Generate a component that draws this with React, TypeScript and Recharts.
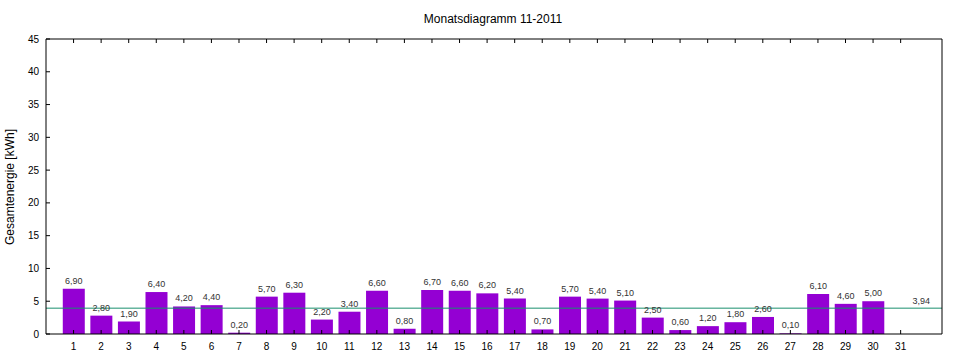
import { BarChart, Bar, XAxis, YAxis, ReferenceLine, LabelList } from 'recharts'

const days = [1, 2, 3, 4, 5, 6, 7, 8, 9, 10, 11, 12, 13, 14, 15, 16, 17, 18, 19, 20, 21, 22, 23, 24, 25, 26, 27, 28, 29, 30]
const energy = [6.9, 2.8, 1.9, 6.4, 4.2, 4.4, 0.2, 5.7, 6.3, 2.2, 3.4, 6.6, 0.8, 6.7, 6.6, 6.2, 5.4, 0.7, 5.7, 5.4, 5.1, 2.5, 0.6, 1.2, 1.8, 2.6, 0.1, 6.1, 4.6, 5.0]
const average = 3.94
const xTicks = [1, 2, 3, 4, 5, 6, 7, 8, 9, 10, 11, 12, 13, 14, 15, 16, 17, 18, 19, 20, 21, 22, 23, 24, 25, 26, 27, 28, 29, 30, 31]
const yTicks = [0, 5, 10, 15, 20, 25, 30, 35, 40, 45]

const data = days.map((d, i) => ({ day: d, value: energy[i] }))

const font = '"Liberation Sans", Arial, sans-serif'
const fmt = (v: any) => Number(v).toFixed(2).replace('.', ',')

export default function App() {
  return (
    <div style={{ position: 'absolute', left: 0, top: 0, width: 960, height: 360, background: '#fff', fontFamily: font }}>
      <BarChart width={960} height={360} data={data} margin={{ top: 38, right: 17, bottom: 0, left: 0 }}>
        <XAxis dataKey="day" type="number" domain={[0, 32.5]} ticks={xTicks} interval={0} height={26}
          tickSize={-4} tickMargin={13} stroke="#000" tick={{ fontSize: 10, fill: '#000', fontFamily: font }} />
        <XAxis xAxisId="top" dataKey="day" type="number" domain={[0, 32.5]} ticks={xTicks} interval={0} height={1}
          orientation="top" tickSize={-4} tickFormatter={() => ''} stroke="#000" />
        <YAxis domain={[0, 45]} ticks={yTicks} width={46} tickSize={-4} tickMargin={11} stroke="#000"
          tick={{ fontSize: 10, fill: '#000', fontFamily: font }} />
        <YAxis yAxisId="right" orientation="right" domain={[0, 45]} ticks={yTicks} width={1} tickSize={-4}
          tickFormatter={() => ''} stroke="#000" />
        <ReferenceLine y={average} stroke="#1a8f6e" strokeWidth={1}
          label={({ viewBox }: any) => (
            <text x={viewBox.x + viewBox.width - 12} y={viewBox.y - 4} textAnchor="end" fontSize={9} fill="#333" fontFamily={font}>
              {fmt(average)}
            </text>
          )} />
        <Bar dataKey="value" fill="#9400D3" barSize={22} isAnimationActive={false}>
          <LabelList dataKey="value" position="top" formatter={fmt} fontSize={9} fill="#333" fontFamily={font} />
        </Bar>
      </BarChart>
      <svg width={960} height={360} style={{ position: 'absolute', left: 0, top: 0, pointerEvents: 'none' }}>
        <text x={493} y={23} textAnchor="middle" fontSize={12} fill="#000" fontFamily={font}>Monatsdiagramm 11-2011</text>
        <text transform="translate(14,187) rotate(-90)" textAnchor="middle" fontSize={12} fill="#000" fontFamily={font}>
          Gesamtenergie [kWh]
        </text>
      </svg>
    </div>
  )
}
